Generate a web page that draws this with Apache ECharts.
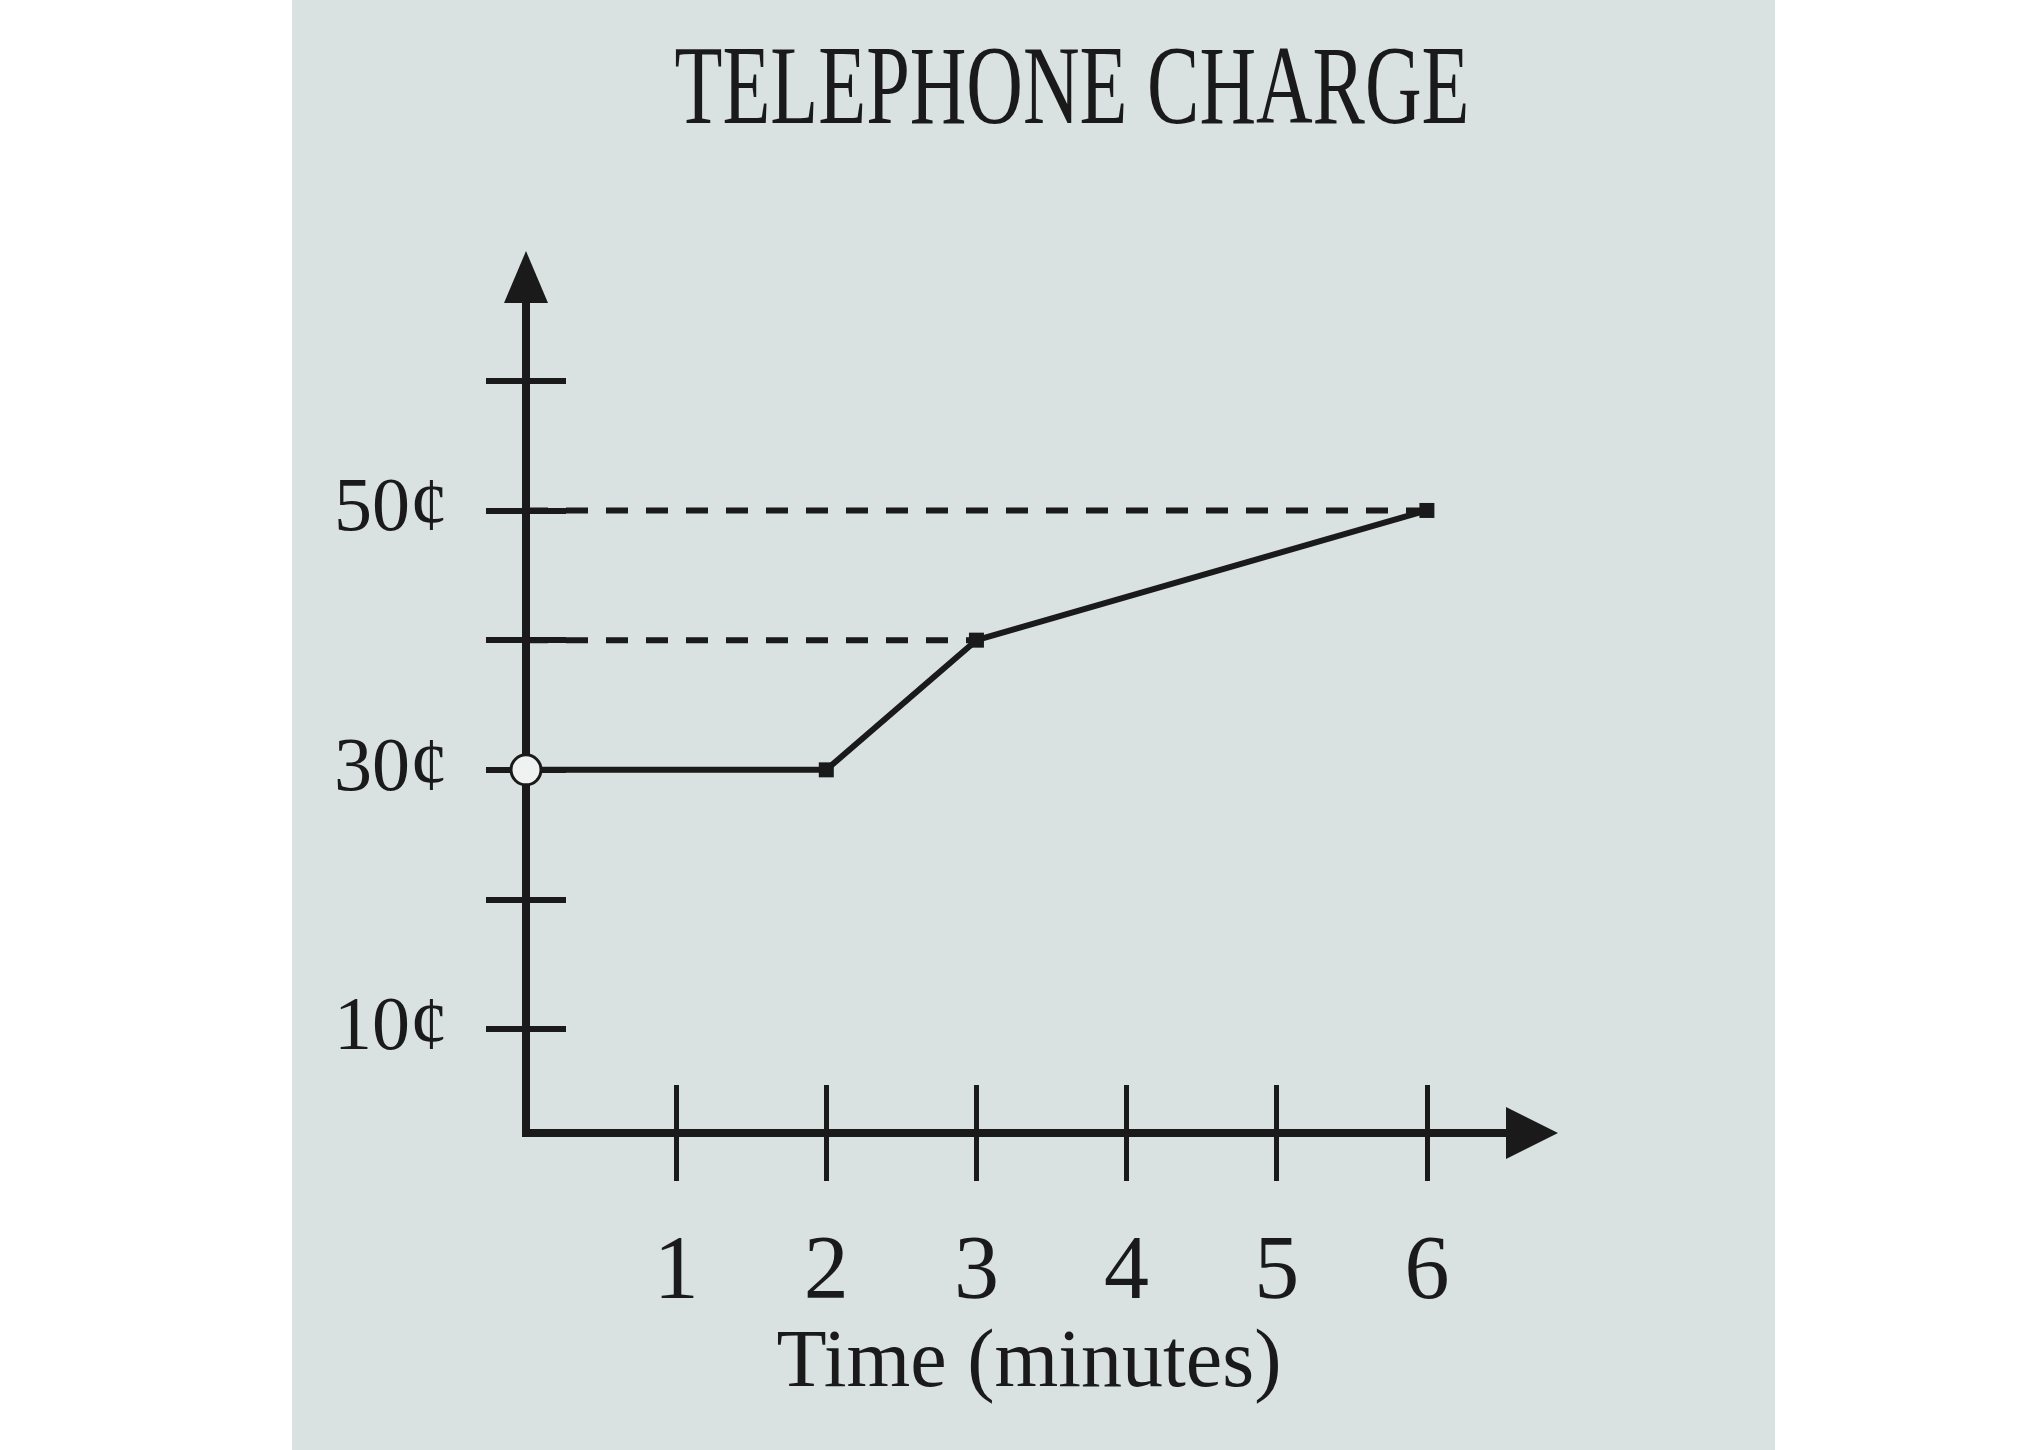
<!DOCTYPE html>
<html>
<head>
<meta charset="utf-8">
<script src="https://cdn.jsdelivr.net/npm/echarts@6/dist/echarts.min.js"></script>
<style>
  html, body { margin: 0; padding: 0; background: #ffffff; }
  #chart { position: absolute; left: 292px; top: 0; width: 1483px; height: 1450px; background: #d9e2e1; }
</style>
</head>
<body>
<div id="chart"></div>
<script>
// data
var chargePoints = [[0, 30], [2, 30], [3, 40], [6, 50]]   // minutes, cents
var guide40 = [[0, 40], [3, 40]]
var guide50 = [[0, 50], [6, 50]]
var xTicks = [1, 2, 3, 4, 5, 6]
var yTicks = [10, 20, 30, 40, 50, 60]
var yLabels = [10, 30, 50]

var ink = '#1a1a1a'
var serif = 'Liberation Serif, Times New Roman, serif'

var chart = echarts.init(document.getElementById('chart'))

// the x axis in the drawing sits a little above 0 cents
var yMin = 2
var yMax = 68

function xAxisBase(inside) {
  return {
    type: 'value',
    min: 0,
    max: 6.7,
    position: 'bottom',
    gridIndex: 0,
    splitLine: { show: false },
    axisLine: { show: false, onZero: false },
    axisTick: {
      show: true,
      inside: inside,
      length: 48,
      customValues: xTicks,
      lineStyle: { color: ink, width: 5 }
    },
    axisLabel: { show: false }
  }
}

function yAxisBase(inside) {
  return {
    type: 'value',
    min: yMin,
    max: yMax,
    position: 'left',
    gridIndex: 0,
    splitLine: { show: false },
    axisLine: { show: false, onZero: false },
    axisTick: {
      show: true,
      inside: inside,
      length: 40,
      customValues: yTicks,
      lineStyle: { color: ink, width: 6 }
    },
    axisLabel: { show: false }
  }
}

var xMain = xAxisBase(false)
xMain.axisLine = {
  show: true,
  onZero: false,
  symbol: ['none', 'triangle'],
  symbolSize: [52, 52],
  lineStyle: { color: ink, width: 8, cap: 'square' }
}
xMain.axisLabel = {
  show: true,
  customValues: xTicks,
  margin: 96,
  color: ink,
  fontSize: 90,
  fontFamily: serif
}
xMain.name = 'Time (minutes)'
xMain.nameLocation = 'middle'
xMain.nameGap = 176
xMain.nameTextStyle = { color: ink, fontSize: 82, fontFamily: serif }

var yMain = yAxisBase(false)
yMain.axisLine = {
  show: true,
  onZero: false,
  symbol: ['none', 'triangle'],
  symbolSize: [44, 52],
  lineStyle: { color: ink, width: 8, cap: 'square' }
}
yMain.axisLabel = {
  show: true,
  customValues: yLabels,
  margin: 78,
  color: ink,
  fontSize: 76,
  fontFamily: serif,
  formatter: function (v) { return v + '¢' }
}

chart.setOption({
  animation: false,
  backgroundColor: 'transparent',
  graphic: [{
    type: 'text',
    x: 780,
    y: 94,
    scaleX: 0.7,
    style: {
      text: 'TELEPHONE CHARGE',
      x: 0,
      y: 0,
      align: 'center',
      verticalAlign: 'middle',
      fill: ink,
      font: '112px ' + serif
    }
  }],
  grid: {
    left: 234,
    right: 243,
    top: 277,
    bottom: 317,
    containLabel: false,
    outerBoundsMode: 'none'
  },
  xAxis: [xMain, xAxisBase(true)],
  yAxis: [yMain, yAxisBase(true)],
  series: [
    {
      type: 'line',
      data: guide50,
      symbol: 'none',
      z: 1,
      lineStyle: { color: ink, width: 6, type: [22, 18] }
    },
    {
      type: 'line',
      data: guide40,
      symbol: 'none',
      z: 1,
      lineStyle: { color: ink, width: 6, type: [22, 18] }
    },
    {
      type: 'line',
      z: 3,
      symbol: 'rect',
      symbolSize: 15,
      itemStyle: { color: ink },
      lineStyle: { color: ink, width: 6 },
      data: chargePoints.map(function (p, i) {
        if (i === 0) {
          return {
            value: p,
            symbol: 'circle',
            symbolSize: 30,
            itemStyle: { color: '#eef2f1', borderColor: ink, borderWidth: 3 }
          }
        }
        return p
      })
    }
  ]
})
</script>
</body>
</html>
